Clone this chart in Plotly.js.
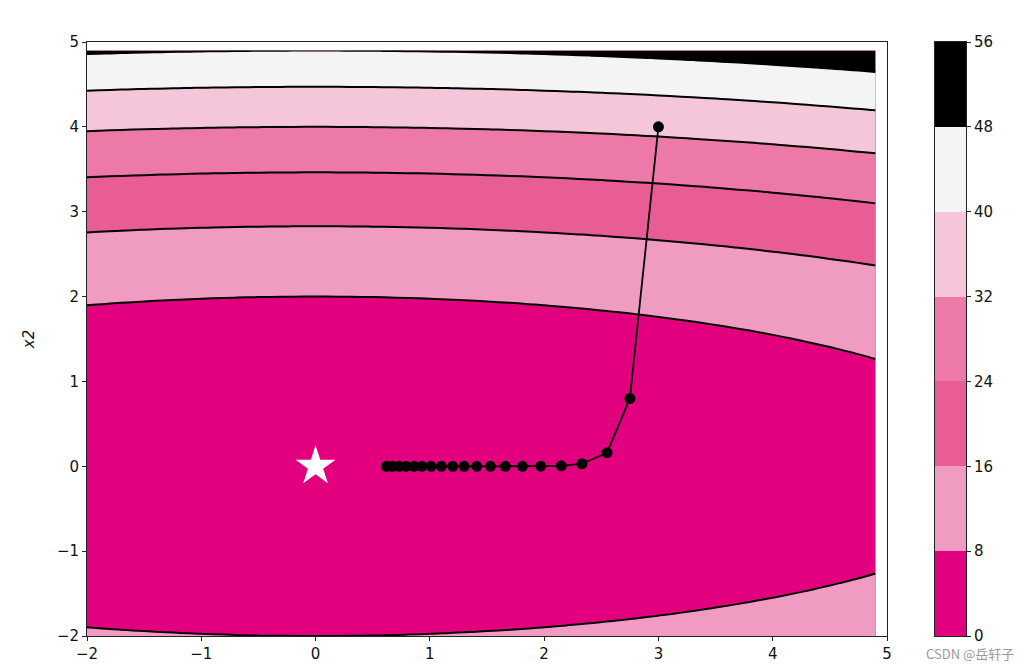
<!DOCTYPE html>
<html>
<head>
<meta charset="utf-8">
<script src="https://cdn.plot.ly/plotly-3.0.1.min.js"></script>
<style>html,body{margin:0;padding:0;background:#fff;}#chart{width:1032px;height:670px;}</style>
</head>
<body>
<div id="chart"></div>
<script>
// Surface f(x1,x2) = a*x1^2 + b*x2^2
const surfaceCoefA = 0.2;
const surfaceCoefB = 2.0;
const gridStart = -2.0;
const gridStop = 4.9;
const gridStep = 0.1;

// contour levels
const levelStart = 0;
const levelEnd = 56;
const levelStep = 8;
const levelTicks = [0, 8, 16, 24, 32, 40, 48, 56];
const bandColors = ['#e3007f', '#f09bc2', '#e85d96', '#ec79a8', '#f5c5d9', '#f4f4f4', '#000000'];

// gradient-descent trajectory
const pathX1 = [3.0, 2.75, 2.55, 2.33, 2.15, 1.97, 1.81, 1.66, 1.53, 1.41, 1.30, 1.20, 1.10, 1.01, 0.93, 0.86, 0.79, 0.73, 0.67, 0.62];
const pathX2 = [4.0, 0.80, 0.16, 0.03, 0.006, 0.001, 0, 0, 0, 0, 0, 0, 0, 0, 0, 0, 0, 0, 0, 0];

// optimum
const optX1 = [0];
const optX2 = [0];

const xTicks = [-2, -1, 0, 1, 2, 3, 4, 5];
const yTicks = [-2, -1, 0, 1, 2, 3, 4, 5];

const gx = [];
for (let i = 0; gridStart + i * gridStep <= gridStop + 1e-9; i++) gx.push(+(gridStart + i * gridStep).toFixed(2));
const gy = gx.slice();
const z = gy.map(y => gx.map(x => surfaceCoefA * x * x + surfaceCoefB * y * y));

const nb = bandColors.length;
const colorscale = [];
bandColors.forEach((c, i) => {
  colorscale.push([i / nb, c]);
  colorscale.push([(i + 1) / nb, c]);
});

const fontFam = 'DejaVu Sans, sans-serif';
const txtColor = '#111';

// layout geometry (pixels)
const W = 1032, H = 670;
const mL = 87, mR = 50, mT = 42, mB = 34;
const pw = W - mL - mR;
const plotRight = 887, cbLeft = 935, cbRight = 966;

const traces = [
  {
    type: 'contour',
    x: gx, y: gy, z: z,
    zmin: levelStart, zmax: levelEnd,
    autocontour: false,
    contours: {start: levelStart, end: levelEnd, size: levelStep, coloring: 'fill', showlines: false},
    line: {color: 'rgba(0,0,0,0)', width: 0, smoothing: 1},
    colorscale: colorscale,
    showscale: false,
    hoverinfo: 'skip'
  },
  {
    type: 'contour',
    x: gx, y: gy, z: z,
    autocontour: false,
    contours: {start: levelStart, end: levelEnd, size: levelStep, coloring: 'none', showlines: true},
    line: {color: '#000', width: 2, smoothing: 1},
    showscale: false,
    hoverinfo: 'skip'
  },
  {
    type: 'scatter', mode: 'lines+markers',
    x: pathX1, y: pathX2,
    line: {color: '#000', width: 1.8},
    marker: {color: '#000', size: 11, symbol: 'circle'},
    showlegend: false, hoverinfo: 'skip'
  },
  {
    type: 'scatter', mode: 'markers',
    x: optX1, y: optX2,
    marker: {color: '#fff', size: 30, symbol: 'star', line: {width: 0}},
    showlegend: false, hoverinfo: 'skip'
  },
  // colour bar built as stacked bands on its own axes
  {
    type: 'bar',
    xaxis: 'x2', yaxis: 'y2',
    x: bandColors.map(() => 0),
    y: bandColors.map((c, i) => levelTicks[i + 1] - levelTicks[i]),
    base: levelTicks.slice(0, nb),
    width: 1,
    marker: {color: bandColors, line: {width: 0}},
    showlegend: false, hoverinfo: 'skip'
  }
];

const layout = {
  width: W, height: H,
  margin: {l: mL, r: mR, t: mT, b: mB},
  paper_bgcolor: '#fff', plot_bgcolor: 'rgba(0,0,0,0)',
  showlegend: false,
  bargap: 0,
  font: {family: fontFam, size: 15, color: txtColor},
  xaxis: {
    domain: [0, (plotRight - mL) / pw],
    range: [-2, 5], autorange: false, tickmode: 'array', tickvals: xTicks, ticktext: xTicks.map(v => v < 0 ? '\u2212' + Math.abs(v) : String(v)),
    showgrid: false, zeroline: false, showline: true, linecolor: '#222', linewidth: 1, mirror: true,
    ticks: 'outside', ticklen: 4, tickcolor: '#222',
    tickfont: {family: fontFam, size: 15, color: txtColor}
  },
  yaxis: {
    range: [-2, 5], autorange: false, tickmode: 'array', tickvals: yTicks, ticktext: yTicks.map(v => v < 0 ? '\u2212' + Math.abs(v) : String(v)),
    showgrid: false, zeroline: false, showline: true, linecolor: '#222', linewidth: 1, mirror: true,
    ticks: 'outside', ticklen: 4, tickcolor: '#222',
    tickfont: {family: fontFam, size: 15, color: txtColor},
    title: {text: '<i>x2</i>', font: {family: fontFam, size: 15, color: txtColor}, standoff: 18}
  },
  xaxis2: {
    domain: [(cbLeft - mL) / pw, (cbRight - mL) / pw],
    anchor: 'y2', range: [-0.5, 0.5], autorange: false,
    showgrid: false, zeroline: false, showticklabels: false, ticks: '',
    showline: true, linecolor: '#222', linewidth: 1, mirror: true
  },
  yaxis2: {
    domain: [0, 1], anchor: 'x2', side: 'right',
    range: [levelStart, levelEnd], autorange: false,
    tickmode: 'array', tickvals: levelTicks, ticktext: levelTicks.map(String),
    showgrid: false, zeroline: false, showline: true, linecolor: '#222', linewidth: 1, mirror: true,
    ticks: 'outside', ticklen: 4, tickcolor: '#222',
    tickfont: {family: fontFam, size: 15, color: txtColor}
  },
  annotations: [
    {
      text: 'CSDN @岳轩子', xref: 'paper', yref: 'paper',
      x: (1016 - mL) / pw, y: -17 / (H - mT - mB), xanchor: 'right', yanchor: 'middle',
      showarrow: false, font: {family: 'Noto Sans CJK SC, sans-serif', size: 13, color: '#999'}
    }
  ]
};

Plotly.newPlot('chart', traces, layout, {staticPlot: true, displayModeBar: false});
</script>
</body>
</html>
